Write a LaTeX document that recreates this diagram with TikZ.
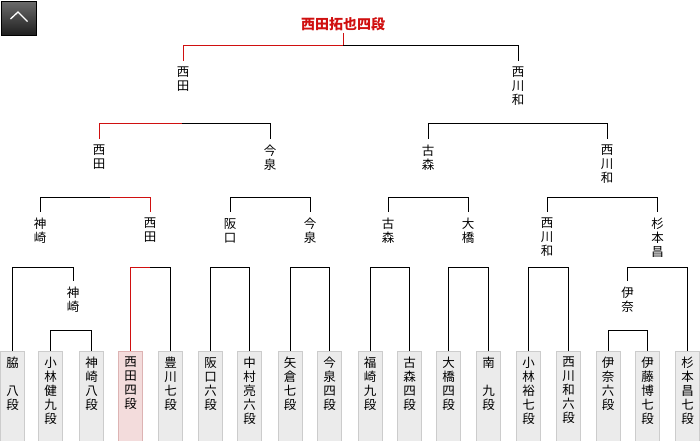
\documentclass[tikz,border=0pt]{standalone}
\usepackage{fontspec}
\newfontfamily\jp{Noto Sans CJK JP}
\usetikzlibrary{calc}
\definecolor{win}{HTML}{D01010}
\definecolor{boxfill}{HTML}{EBEBEB}
\definecolor{boxline}{HTML}{CCCCCC}
\definecolor{pinkfill}{HTML}{F3DCDC}
\definecolor{pinkline}{HTML}{DDB3B3}
\begin{document}
\begin{tikzpicture}[x=1pt,y=-1pt,
  conn/.style={line width=1pt, black},
  wconn/.style={line width=1pt, win},
  pbox/.style={draw=boxline, fill=boxfill, line width=1pt, minimum width=24pt, minimum height=90pt, inner sep=0pt, anchor=north},
  wbox/.style={pbox, draw=pinkline, fill=pinkfill},
  ptxt/.style={font=\jp\fontsize{12.5}{14}\selectfont, align=center, inner sep=0pt, anchor=north},
  lbl/.style={ptxt}]
\useasboundingbox[fill=white] (0,0) rectangle (700,440);

% back-to-top button
\node[draw=black, line width=1pt, minimum width=35pt, minimum height=34pt, top color=black!58, bottom color=black!88, inner sep=0pt, anchor=north west] (up) at (0.5,0.5) {};
\draw[white, line width=1.3pt] ($(up.center)+(-8,1)$) -- ($(up.center)+(-0.5,-6)$) -- ($(up.center)+(9,3.5)$);

% title
\node[font=\jp\bfseries\fontsize{14}{14}\selectfont, text=win, inner sep=0pt] (title) at (343,24) {西田拓也四段};

% player boxes
\node[pbox] (b1) at (12.5,350.5) {};
\node[pbox] (b2) at (50.5,350.5) {};
\node[pbox] (b3) at (91.5,350.5) {};
\node[wbox] (b4) at (130.5,350.5) {};
\node[pbox] (b5) at (170.5,350.5) {};
\node[pbox] (b6) at (210.5,350.5) {};
\node[pbox] (b7) at (249.5,350.5) {};
\node[pbox] (b8) at (290,350.5) {};
\node[pbox] (b9) at (329.5,350.5) {};
\node[pbox] (b10) at (370,350.5) {};
\node[pbox] (b11) at (409.5,350.5) {};
\node[pbox] (b12) at (448.5,350.5) {};
\node[pbox] (b13) at (488.5,350.5) {};
\node[pbox] (b14) at (528.5,350.5) {};
\node[pbox] (b15) at (568.5,350.5) {};
\node[pbox] (b16) at (608,350.5) {};
\node[pbox] (b17) at (647.5,350.5) {};
\node[pbox] (b18) at (687.5,350.5) {};

% box texts
\node[ptxt] (t1) at (12.5,357) {脇\\\mbox{}\\八\\段};
\node[ptxt] (t2) at (50.5,357) {小\\林\\健\\九\\段};
\node[ptxt] (t3) at (91.5,357) {神\\崎\\八\\段};
\node[ptxt] (t4) at (130.5,357) {西\\田\\四\\段};
\node[ptxt] (t5) at (170.5,357) {豊\\川\\七\\段};
\node[ptxt] (t6) at (210.5,357) {阪\\口\\六\\段};
\node[ptxt] (t7) at (249.5,357) {中\\村\\亮\\六\\段};
\node[ptxt] (t8) at (290,357) {矢\\倉\\七\\段};
\node[ptxt] (t9) at (329.5,357) {今\\泉\\四\\段};
\node[ptxt] (t10) at (370,357) {福\\崎\\九\\段};
\node[ptxt] (t11) at (409.5,357) {古\\森\\四\\段};
\node[ptxt] (t12) at (448.5,357) {大\\橋\\四\\段};
\node[ptxt] (t13) at (488.5,357) {南\\\mbox{}\\九\\段};
\node[ptxt] (t14) at (528.5,357) {小\\林\\裕\\七\\段};
\node[ptxt] (t15) at (568.5,357) {西\\川\\和\\六\\段};
\node[ptxt] (t16) at (608,357) {伊\\奈\\六\\段};
\node[ptxt] (t17) at (647.5,357) {伊\\藤\\博\\七\\段};
\node[ptxt] (t18) at (687.5,357) {杉\\本\\昌\\七\\段};

% winner labels
\node[lbl] (r1a) at (73,287) {神\\崎};
\node[lbl] (r1b) at (627.5,287) {伊\\奈};
\node[lbl] (r2a) at (40,218) {神\\崎};
\node[lbl] (r2b) at (150,218) {西\\田};
\node[lbl] (r2c) at (230,218) {阪\\口};
\node[lbl] (r2d) at (310,218) {今\\泉};
\node[lbl] (r2e) at (388,218) {古\\森};
\node[lbl] (r2f) at (468,218) {大\\橋};
\node[lbl] (r2g) at (547,218) {西\\川\\和};
\node[lbl] (r2h) at (657.5,218) {杉\\本\\昌};
\node[lbl] (r3a) at (99,145) {西\\田};
\node[lbl] (r3b) at (270,145) {今\\泉};
\node[lbl] (r3c) at (428,145) {古\\森};
\node[lbl] (r3d) at (607,145) {西\\川\\和};
\node[lbl] (r4a) at (183,67) {西\\田};
\node[lbl] (r4b) at (518,67) {西\\川\\和};

% junctions
\coordinate (m23) at (71,330);
\coordinate (m1) at (42.5,267);
\coordinate (m45) at (150,267);
\coordinate (m67) at (230,267);
\coordinate (m89) at (310,267);
\coordinate (m1011) at (390,267);
\coordinate (m1213) at (468.5,267);
\coordinate (m1415) at (548.5,267);
\coordinate (m1617) at (628,330);
\coordinate (m18) at (657.5,267);
\coordinate (n1) at (110,197);
\coordinate (n2) at (270,197);
\coordinate (n3) at (428,197);
\coordinate (n4) at (602,197);
\coordinate (q1) at (182,123);
\coordinate (q2) at (518,123);
\coordinate (f) at (343,45);

% round 1
\draw[conn] (b2.north) |- (m23);  \draw[conn] (b3.north) |- (m23);
\draw[conn] (b1.north) |- (m1);   \draw[conn] ([yshift=6.5pt]r1a.north) |- (m1);
\draw[conn] (b5.north) |- (m45);
\draw[conn] (b6.north) |- (m67);  \draw[conn] (b7.north) |- (m67);
\draw[conn] (b8.north) |- (m89);  \draw[conn] (b9.north) |- (m89);
\draw[conn] (b10.north) |- (m1011); \draw[conn] (b11.north) |- (m1011);
\draw[conn] (b12.north) |- (m1213); \draw[conn] (b13.north) |- (m1213);
\draw[conn] (b14.north) |- (m1415); \draw[conn] (b15.north) |- (m1415);
\draw[conn] (b16.north) |- (m1617); \draw[conn] (b17.north) |- (m1617);
\draw[conn] ([yshift=6.5pt]r1b.north) |- (m18); \draw[conn] (b18.north) |- (m18);
% round 2
\draw[conn] ([yshift=6.5pt]r2a.north) |- (n1);
\draw[conn] ([yshift=6.5pt]r2c.north) |- (n2); \draw[conn] ([yshift=6.5pt]r2d.north) |- (n2);
\draw[conn] ([yshift=6.5pt]r2e.north) |- (n3); \draw[conn] ([yshift=6.5pt]r2f.north) |- (n3);
\draw[conn] ([yshift=6.5pt]r2g.north) |- (n4); \draw[conn] ([yshift=6.5pt]r2h.north) |- (n4);
% round 3
\draw[conn] ([yshift=6.5pt]r3b.north) |- (q1);
\draw[conn] ([yshift=6.5pt]r3c.north) |- (q2); \draw[conn] ([yshift=6.5pt]r3d.north) |- (q2);
% final
\draw[conn] ([yshift=6.5pt]r4b.north) |- (f);

% winner path
\draw[wconn] (b4.north) |- (m45);
\draw[wconn] ([yshift=6.5pt]r2b.north) |- (n1);
\draw[wconn] ([yshift=6.5pt]r3a.north) |- (q1);
\draw[wconn] ([yshift=6.5pt]r4a.north) |- (f);
\draw[wconn] ([yshift=-2pt]title.south) -- (f);
\end{tikzpicture}
\end{document}
